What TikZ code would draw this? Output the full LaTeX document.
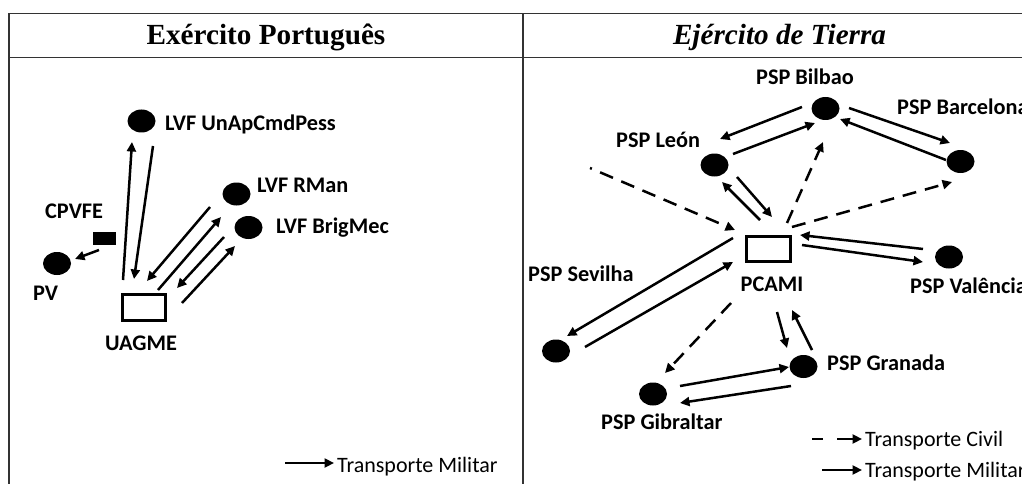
\documentclass[tikz,border=0pt]{standalone}
\usepackage{fontspec}
\setmainfont{Liberation Serif}
\newfontfamily\lblfont{Carlito}
\usetikzlibrary{arrows.meta,shapes.geometric,calc}
\tikzset{
 site/.style={ellipse, fill=black, minimum width=28pt, minimum height=23pt, inner sep=0pt},
 post/.style={rectangle, draw=black, line width=3pt, minimum width=43.5pt, minimum height=25.5pt, inner sep=0pt},
 depot/.style={rectangle, fill=black, minimum width=23pt, minimum height=13pt, inner sep=0pt},
 lbl/.style={font=\lblfont\bfseries\fontsize{22.3}{25}\selectfont, inner sep=0pt},
 leg/.style={font=\lblfont\fontsize{22}{25}\selectfont, inner sep=0pt},
 hdr/.style={font=\bfseries\fontsize{29.2}{32}\selectfont, inner sep=0pt, anchor=base},
 mil/.style={line width=2.5pt, -{Triangle[length=9.5pt,width=9pt]}},
 civ/.style={mil, dash pattern=on 14pt off 9pt},
 panelline/.style={line width=1.5pt, draw=black!80},
}
\begin{document}
\begin{tikzpicture}[x=1pt,y=-1pt]
\useasboundingbox (0,0) rectangle (1022,484);
% panels
\draw[panelline] (9,500) -- (9,13.5) -- (1036,13.5);
\draw[panelline] (523,13.5) -- (523,500);
\draw[panelline] (9,57.5) -- (1036,57.5);
\node[hdr] (h1) at (266,45) {Exército Português};
\node[hdr] (h2) at (779.5,45) {\itshape Ejército de Tierra};
% ---------- left panel ----------
\node[site] (a1) at (141.5,121) {};
\node[site] (a2) at (236.5,194) {};
\node[site] (a3) at (248.5,227.5) {};
\node[site] (pv) at (57,263.5) {};
\node[depot] (cp) at (104.5,238.5) {};
\node[post] (u) at (144,307.5) {};
\node[lbl, anchor=base west] (ta1) at (165,131) {LVF UnApCmdPess};
\node[lbl, anchor=base west] (ta2) at (257,192) {LVF RMan};
\node[lbl, anchor=base west] (ta3) at (276,233) {LVF BrigMec};
\node[lbl, anchor=base west] (tcp) at (45,218) {CPVFE};
\node[lbl, anchor=base west] (tpv) at (33,300) {PV};
\node[lbl, anchor=base] (tu) at (141,350) {UAGME};
\draw[mil] ([shift={(-21,-27.5)}]u.center) -- ([shift={(-9.5,21)}]a1.center);
\draw[mil] ([shift={(11.5,25)}]a1.center) -- ([shift={(-10,-28.5)}]u.center);
\draw[mil] ([shift={(-26.5,13)}]a2.center) -- ([shift={(3,-26.5)}]u.center);
\draw[mil] ([shift={(14,-17.5)}]u.center) -- ([shift={(-15.5,23)}]a2.center);
\draw[mil] ([shift={(-24.5,9.5)}]a3.center) -- ([shift={(33,-19.5)}]u.center);
\draw[mil] ([shift={(38,-4.5)}]u.center) -- ([shift={(-13.5,18.5)}]a3.center);
\draw[mil] ([shift={(-5.5,11.5)}]cp.center) -- ([shift={(18,-4.5)}]pv.center);
% legend left
\coordinate (l1a) at (285,463);
\node[leg, anchor=base west] (l1t) at (337,472) {Transporte Militar};
\draw[mil] (l1a) -- ([xshift=-3pt]l1t.west |- l1a);
% ---------- right panel ----------
\node[site] (bil) at (825.5,108.5) {};
\node[site] (bar) at (960.5,161.5) {};
\node[site] (leo) at (714.5,165) {};
\node[post] (pc) at (768.5,249) {};
\node[site] (val) at (949,257) {};
\node[site] (sev) at (556,351) {};
\node[site] (gra) at (803.5,366.5) {};
\node[site] (gib) at (653,394) {};
\node[lbl, anchor=base] (tbil) at (805,85) {PSP Bilbao};
\node[lbl, anchor=base west] (tbar) at (897,115) {PSP Barcelona};
\node[lbl, anchor=base west] (tleo) at (616,147) {PSP León};
\node[lbl, anchor=base] (tpc) at (772,291) {PCAMI};
\node[lbl, anchor=base west] (tval) at (910,293) {PSP Valência};
\node[lbl, anchor=base west] (tsev) at (528,281) {PSP Sevilha};
\node[lbl, anchor=base west] (tgra) at (827,370) {PSP Granada};
\node[lbl, anchor=base west] (tgib) at (601,429) {PSP Gibraltar};
% military
\draw[mil] ([shift={(-23.5,-1.5)}]bil.center) -- ([shift={(5.5,-26)}]leo.center);
\draw[mil] ([shift={(18.5,-11)}]leo.center) -- ([shift={(-10.5,14.5)}]bil.center);
\draw[mil] ([shift={(23.5,-0.5)}]bil.center) -- ([shift={(-10.5,-18.5)}]bar.center);
\draw[mil] ([shift={(-14.5,-1.5)}]bar.center) -- ([shift={(14.5,10.5)}]bil.center);
\draw[mil] ([shift={(22.5,12)}]leo.center) -- ([shift={(3.5,-32)}]pc.center);
\draw[mil] ([shift={(-8.5,-29)}]pc.center) -- ([shift={(7.5,17)}]leo.center);
\draw[mil] ([shift={(33.5,-4)}]pc.center) -- ([shift={(-26,5)}]val.center);
\draw[mil] ([shift={(-26,-8)}]val.center) -- ([shift={(31.5,-14)}]pc.center);
\draw[mil] ([shift={(-35.5,-11)}]pc.center) -- ([shift={(11,-15)}]sev.center);
\draw[mil] ([shift={(29,-4)}]sev.center) -- ([shift={(-35.5,13)}]pc.center);
\draw[mil] ([shift={(8.5,63)}]pc.center) -- ([shift={(-16.5,-18.5)}]gra.center);
\draw[mil] ([shift={(8.5,-16.5)}]gra.center) -- ([shift={(23.5,61)}]pc.center);
\draw[mil] ([shift={(27,-8)}]gib.center) -- ([shift={(-14.5,0.5)}]gra.center);
\draw[mil] ([shift={(-12.5,19.5)}]gra.center) -- ([shift={(27,9)}]gib.center);
% civil
\coordinate (free) at (590,168);
\draw[civ, dash phase=12pt] (free) -- ([shift={(-33.5,-19)}]pc.center);
\draw[civ] ([shift={(18.5,-26)}]pc.center) -- ([shift={(-2.5,33.5)}]bil.center);
\draw[civ] ([shift={(23.5,-22)}]pc.center) -- ([shift={(-8.5,20.5)}]bar.center);
\draw[civ] ([shift={(-37.5,54)}]pc.center) -- ([shift={(12,-21)}]gib.center);
% legend right
\node[leg, anchor=base west] (lct) at (865,446) {Transporte Civil};
\node[leg, anchor=base west] (lmt) at (865,477) {Transporte Militar};
\coordinate (lc1) at (812,439);
\coordinate (lc2) at (823,439);
\coordinate (lc3) at (837,439);
\coordinate (lm1) at (822,470);
\draw[line width=2.5pt] (lc1) -- (lc2);
\draw[mil] (lc3) -- ([xshift=-3pt]lct.west |- lc3);
\draw[mil] (lm1) -- ([xshift=-3pt]lmt.west |- lm1);
\end{tikzpicture}
\end{document}
